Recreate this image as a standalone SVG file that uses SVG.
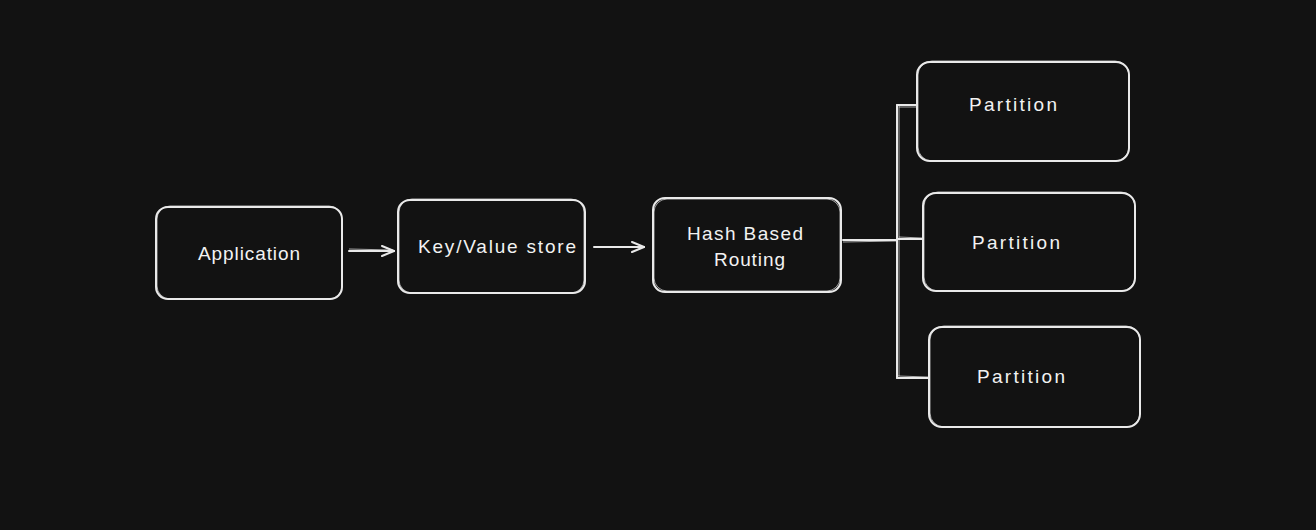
<svg xmlns="http://www.w3.org/2000/svg" width="1316" height="530" viewBox="0 0 1316 530">
<defs>
<style>
.box{fill:#121212;stroke:#e9e9e9;stroke-width:2;}
.box2{fill:none;stroke:#e9e9e9;stroke-width:1;opacity:0.7;}
.lbl{font-family:"Liberation Sans","DejaVu Sans",sans-serif;font-size:19px;fill:#f2f2f2;text-anchor:middle;dominant-baseline:central;}
.edge{fill:none;stroke:#e9e9e9;stroke-width:2;stroke-linecap:round;stroke-linejoin:round;}
.edge2{fill:none;stroke:#e9e9e9;stroke-width:1;opacity:0.7;}
</style>
<marker id="arr" viewBox="0 0 14 12" refX="13" refY="6" markerWidth="14" markerHeight="12" markerUnits="userSpaceOnUse" orient="auto">
<path d="M1,1 L13,6 L1,11" fill="none" stroke="#e9e9e9" stroke-width="2" stroke-linecap="round"/>
</marker>
</defs>
<rect width="1316" height="530" fill="#121212"/>
<g id="connectors">
<path class="edge" d="M349,251 L394,251" marker-end="url(#arr)"/>
<path class="edge2" d="M349,249 L393,250"/>
<path class="edge" d="M594,247 L644,247" marker-end="url(#arr)"/>
<path class="edge" d="M843,240 L897,240"/>
<path class="edge2" d="M843,242 L896,241"/>
<path class="edge" d="M897,105 L897,378"/>
<path class="edge2" d="M899,106 L899,376"/>
<path class="edge" d="M897,105 L920,105"/>
<path class="edge2" d="M899,107 L919,107"/>
<path class="edge" d="M897,239 L923,239"/>
<path class="edge2" d="M899,237 L922,238"/>
<path class="edge" d="M897,378 L929,378"/>
<path class="edge2" d="M898,376 L928,377"/>
</g>
<g id="application">
<rect class="box" x="156" y="207" width="186" height="92" rx="12"/>
<rect class="box2" x="157" y="206" width="185" height="93" rx="13"/>
<text class="lbl" x="249" y="253" textLength="102" lengthAdjust="spacing">Application</text>
</g>
<g id="kvstore">
<rect class="box" x="398" y="200" width="187" height="93" rx="12"/>
<rect class="box2" x="399" y="199" width="185" height="94" rx="13"/>
<text class="lbl" x="497" y="246" textLength="158" lengthAdjust="spacing">Key/Value store</text>
</g>
<g id="hash">
<rect class="box" x="653" y="198" width="188" height="94" rx="12"/>
<rect class="box2" x="654" y="199" width="186" height="92" rx="13"/>
<text class="lbl" x="745" y="233" textLength="116" lengthAdjust="spacing">Hash Based</text>
<text class="lbl" x="749.5" y="259" textLength="71" lengthAdjust="spacing">Routing</text>
</g>
<g id="partition1">
<rect class="box" x="917" y="62" width="212" height="99" rx="13"/>
<rect class="box2" x="918" y="61" width="211" height="100" rx="14"/>
<text class="lbl" x="1013" y="104" textLength="88" lengthAdjust="spacing">Partition</text>
</g>
<g id="partition2">
<rect class="box" x="923" y="193" width="212" height="98" rx="13"/>
<rect class="box2" x="924" y="192" width="211" height="99" rx="14"/>
<text class="lbl" x="1016" y="242" textLength="88" lengthAdjust="spacing">Partition</text>
</g>
<g id="partition3">
<rect class="box" x="929" y="327" width="211" height="100" rx="13"/>
<rect class="box2" x="930" y="326" width="210" height="101" rx="14"/>
<text class="lbl" x="1021" y="376" textLength="88" lengthAdjust="spacing">Partition</text>
</g>
</svg>
